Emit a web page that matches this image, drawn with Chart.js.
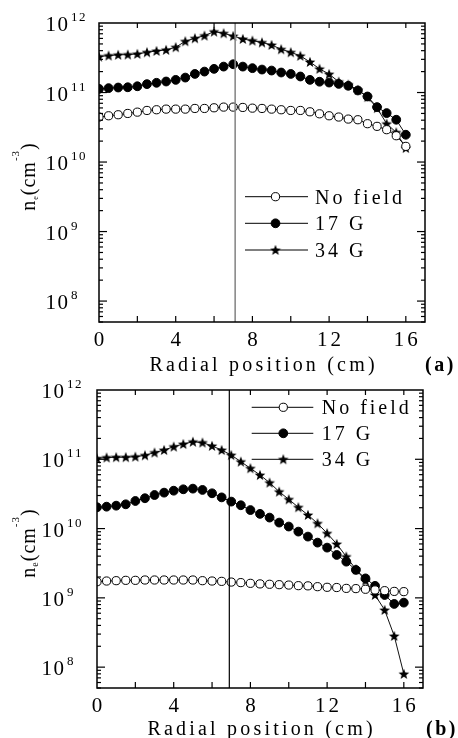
<!DOCTYPE html>
<html>
<head>
<meta charset="utf-8">
<script src="https://cdn.jsdelivr.net/npm/chart.js@4.4.1/dist/chart.umd.min.js"></script>
<style>
  html,body{margin:0;padding:0;background:#fff;}
  body{width:458px;height:738px;position:relative;overflow:hidden;}
  .pane{position:absolute;left:0;width:458px;height:378px;}
</style>
</head>
<body>
<div class="pane" style="top:0"><canvas id="chartA" width="458" height="378"></canvas></div>
<div class="pane" style="top:360px"><canvas id="chartB" width="458" height="378"></canvas></div>
<script>
// ---------- data ----------
const radius = [0,0.5,1,1.5,2,2.5,3,3.5,4,4.5,5,5.5,6,6.5,7,7.5,8,8.5,9,9.5,10,10.5,11,11.5,12,12.5,13,13.5,14,14.5,15,15.5,16];

// panel (a)
const aNoField = [4.44e10,4.63e10,4.79e10,5.0e10,5.22e10,5.52e10,5.65e10,5.77e10,5.77e10,5.77e10,5.9e10,5.9e10,6.03e10,6.17e10,6.17e10,6.1e10,5.96e10,5.9e10,5.77e10,5.65e10,5.52e10,5.52e10,5.28e10,4.94e10,4.63e10,4.44e10,4.15e10,4.06e10,3.56e10,3.26e10,2.92e10,2.39e10,1.68e10];
const a17G = [1.13e11,1.156e11,1.18e11,1.19e11,1.23e11,1.32e11,1.38e11,1.44e11,1.52e11,1.64e11,1.85e11,2.0e11,2.19e11,2.36e11,2.55e11,2.36e11,2.24e11,2.14e11,2.07e11,1.94e11,1.85e11,1.70e11,1.52e11,1.43e11,1.39e11,1.33e11,1.25e11,1.07e11,8.77e10,6.17e10,5.06e10,4.06e10,2.47e10];
const a34G = [3.29e11,3.40e11,3.48e11,3.51e11,3.59e11,3.79e11,3.96e11,4.10e11,4.48e11,5.46e11,6.03e11,6.58e11,7.50e11,7.11e11,6.50e11,5.89e11,5.57e11,5.25e11,4.83e11,4.19e11,3.79e11,3.37e11,2.75e11,2.19e11,1.84e11,1.43e11,1.30e11,1.09e11,8.59e10,5.97e10,3.56e10,2.67e10,1.59e10];

// panel (b)
const bNoField = [1.71e9,1.75e9,1.77e9,1.79e9,1.79e9,1.81e9,1.81e9,1.81e9,1.81e9,1.81e9,1.81e9,1.77e9,1.75e9,1.73e9,1.69e9,1.66e9,1.62e9,1.59e9,1.57e9,1.55e9,1.53e9,1.50e9,1.49e9,1.45e9,1.42e9,1.41e9,1.37e9,1.36e9,1.33e9,1.30e9,1.27e9,1.24e9,1.23e9];
const b17G = [2.03e10,2.07e10,2.14e10,2.24e10,2.50e10,2.74e10,3.05e10,3.30e10,3.52e10,3.69e10,3.77e10,3.61e10,3.23e10,2.82e10,2.45e10,2.17e10,1.85e10,1.63e10,1.44e10,1.22e10,1.07e10,9.04e9,7.66e9,6.27e9,5.31e9,4.16e9,3.33e9,2.53e9,1.91e9,1.49e9,1.10e9,8.17e8,8.53e8];
const b34G = [1.03e11,1.06e11,1.07e11,1.07e11,1.09e11,1.14e11,1.25e11,1.36e11,1.52e11,1.66e11,1.79e11,1.74e11,1.56e11,1.36e11,1.15e11,9.25e10,7.41e10,5.93e10,4.60e10,3.41e10,2.64e10,2.03e10,1.57e10,1.19e10,8.55e9,6.0e9,3.94e9,2.58e9,1.77e9,1.10e9,6.68e8,2.82e8,7.98e7];

// axes / labels
const xTickLabels = [0,4,8,12,16];
const xTickMarks = [0,2,4,6,8,10,12,14,16];
const yDecadeExponents = [8,9,10,11,12];
const legendLabels = ['No field','17 G','34 G'];
const xTitle = 'Radial position (cm)';
const verticalLineA = 7.1;
const verticalLineB = 6.9;

// ---------- styling helpers ----------
const SERIF = "'Liberation Serif','DejaVu Serif','Times New Roman',serif";

function makeStar(){
  const c = document.createElement('canvas');
  c.width = 12; c.height = 12;
  const g = c.getContext('2d');
  g.fillStyle = '#000';
  g.beginPath();
  for (let i = 0; i < 10; i++) {
    const r = (i % 2) ? 2.4 : 5.6;
    const a = -Math.PI/2 + i*Math.PI/5;
    const px = 6 + r*Math.cos(a), py = 6.4 + r*Math.sin(a);
    if (i) g.lineTo(px, py); else g.moveTo(px, py);
  }
  g.closePath(); g.fill();
  return c;
}
const STAR = makeStar();

const seriesStyles = [
  {pointStyle:'circle', pointRadius:4.1, pointBackgroundColor:'#fff', pointBorderColor:'#000', pointBorderWidth:1},
  {pointStyle:'circle', pointRadius:4.4, pointBackgroundColor:'#000', pointBorderColor:'#000', pointBorderWidth:1},
  {pointStyle:STAR, pointRadius:6, pointBackgroundColor:'#000', pointBorderColor:'#000', pointBorderWidth:0}
];

function toXY(xs, ys){ return xs.map((x,i)=>({x:x, y:ys[i]})); }

function spacedWidth(ctx, text, sp){
  let w = 0; const chars = Array.from(text);
  chars.forEach(ch => { w += ctx.measureText(ch).width + sp; });
  return w - sp;
}
function drawSpaced(ctx, text, x, y, sp, align){
  const w = spacedWidth(ctx, text, sp);
  let cx = align === 'center' ? x - w/2 : (align === 'right' ? x - w : x);
  ctx.textAlign = 'left';
  for (const ch of Array.from(text)) {
    ctx.fillText(ch, cx, y);
    cx += ctx.measureText(ch).width + sp;
  }
  return w;
}
function seg(ctx, x1, y1, x2, y2){
  ctx.beginPath(); ctx.moveTo(x1, y1); ctx.lineTo(x2, y2); ctx.stroke();
}
function drawMarker(ctx, i, px, py){
  const s = seriesStyles[i];
  if (s.pointStyle === 'circle') {
    ctx.beginPath(); ctx.arc(px, py, s.pointRadius, 0, Math.PI*2);
    ctx.fillStyle = s.pointBackgroundColor; ctx.fill();
    ctx.lineWidth = 1; ctx.strokeStyle = '#000'; ctx.stroke();
  } else {
    ctx.drawImage(STAR, px - STAR.width/2, py - STAR.height/2);
  }
}

const decor = {
  id: 'decor',
  afterDraw(chart, args, o){
    const ctx = chart.ctx, ca = chart.chartArea;
    const xs = chart.scales.x, ys = chart.scales.y;
    ctx.save();
    ctx.strokeStyle = '#000'; ctx.fillStyle = '#000';

    // frame
    ctx.lineWidth = 1.5;
    ctx.strokeRect(ca.left, ca.top, ca.right - ca.left, ca.bottom - ca.top);

    // x tick marks (bottom & top, inward)
    ctx.lineWidth = 1.2;
    xTickMarks.forEach(v => {
      const px = xs.getPixelForValue(v);
      if (v !== 0) { seg(ctx, px, ca.bottom, px, ca.bottom - 6); seg(ctx, px, ca.top, px, ca.top + 5); }
    });
    // y tick marks (left & right, inward), decades + minors
    for (let n = 7; n <= 11; n++) {
      for (let k = 1; k <= 9; k++) {
        const v = k * Math.pow(10, n);
        if (v < ys.min * 0.999 || v > ys.max * 1.001) continue;
        const py = ys.getPixelForValue(v);
        const len = (k === 1) ? 8 : 4;
        seg(ctx, ca.left, py, ca.left + len, py);
        seg(ctx, ca.right, py, ca.right - len, py);
      }
    }

    // y tick labels 10^n
    yDecadeExponents.forEach(e => {
      const py = ys.getPixelForValue(Math.pow(10, e));
      ctx.font = '21px ' + SERIF; ctx.textBaseline = 'alphabetic';
      const right = ca.left - o.yLabelGap;
      drawSpaced(ctx, '10', right, py + 8, 1.5, 'right');
      ctx.font = '13px ' + SERIF;
      drawSpaced(ctx, String(e), right + 3, py - 2, 1.5, 'left');
    });

    // x tick labels
    ctx.font = '21px ' + SERIF;
    xTickLabels.forEach(v => {
      const px = xs.getPixelForValue(v);
      drawSpaced(ctx, String(v), px, ca.bottom + 24, 3, 'center');
    });

    // x title
    ctx.font = '20px ' + SERIF;
    drawSpaced(ctx, xTitle, (ca.left + ca.right)/2, ca.bottom + o.titleDy, 3.2, 'center');
    // panel label
    ctx.font = 'bold 20px ' + SERIF;
    drawSpaced(ctx, o.panel, o.panelX, ca.bottom + o.titleDy, 2.5, 'left');

    // y title, rotated
    ctx.save();
    ctx.translate(35, (ca.top + ca.bottom)/2 + 4);
    ctx.rotate(-Math.PI/2);
    const parts = [
      {t:'n', f:'20px', dy:0},
      {t:'e', f:o.subSize, dy:3},
      {t:'(cm', f:'20px', dy:0},
      {t:'-3', f:'11px', dy:-16},
      {t:')', f:'20px', dy:0}
    ];
    let total = 0;
    parts.forEach(p => { ctx.font = p.f + ' ' + SERIF; p.w = spacedWidth(ctx, p.t, 1); total += p.w + 1; });
    let cx = -total/2;
    parts.forEach(p => { ctx.font = p.f + ' ' + SERIF; drawSpaced(ctx, p.t, cx, p.dy, 1, 'left'); cx += p.w + 1; });
    ctx.restore();

    // legend
    legendLabels.forEach((lab, i) => {
      const ry = o.legendRows[i];
      ctx.strokeStyle = '#000'; ctx.lineWidth = 1;
      seg(ctx, o.legendX1, ry, o.legendX2, ry);
      drawMarker(ctx, i, o.legendMarkX, ry);
      ctx.fillStyle = '#000';
      ctx.font = '20px ' + SERIF;
      drawSpaced(ctx, lab, o.legendTextX, ry + 7, 3, 'left');
    });
    ctx.restore();
  }
};

function build(id, vx, vColor, vWidth, series, pad, decorOpts){
  const datasets = [{
    label: 'marker line',
    data: [{x: vx, y: 5e7}, {x: vx, y: 1e12}],
    borderColor: vColor, borderWidth: vWidth, pointRadius: 0, fill: false
  }];
  series.forEach((vals, i) => {
    datasets.push(Object.assign({
      label: legendLabels[i],
      data: toXY(radius, vals),
      borderColor: '#111', borderWidth: 1, fill: false, tension: 0
    }, seriesStyles[i]));
  });
  return new Chart(document.getElementById(id), {
    type: 'line',
    data: { datasets: datasets },
    options: {
      responsive: false, animation: false, devicePixelRatio: 1,
      layout: { padding: pad },
      plugins: { legend: {display: false}, tooltip: {enabled: false}, decor: decorOpts },
      scales: {
        x: { type: 'linear', min: 0, max: 17, display: false },
        y: { type: 'logarithmic', min: 5e7, max: 1e12, display: false }
      }
    },
    plugins: [decor]
  });
}

build('chartA', verticalLineA, '#8a8a8a', 1.6, [aNoField, a17G, a34G],
  {left: 99, right: 33, top: 23, bottom: 56},
  {panel: '(a)', panelX: 425, titleDy: 49, yLabelGap: 31, subSize: '8px',
   legendRows: [196.7, 223.3, 250], legendX1: 245, legendX2: 308, legendMarkX: 275.5, legendTextX: 315});

build('chartB', verticalLineB, '#000', 1.2, [bNoField, b17G, b34G],
  {left: 97, right: 35, top: 30, bottom: 50},
  {panel: '(b)', panelX: 426, titleDy: 47, yLabelGap: 33, subSize: '10px',
   legendRows: [47.3, 73.3, 99.3], legendX1: 251.7, legendX2: 313.3, legendMarkX: 283.3, legendTextX: 321.7});
</script>
</body>
</html>
